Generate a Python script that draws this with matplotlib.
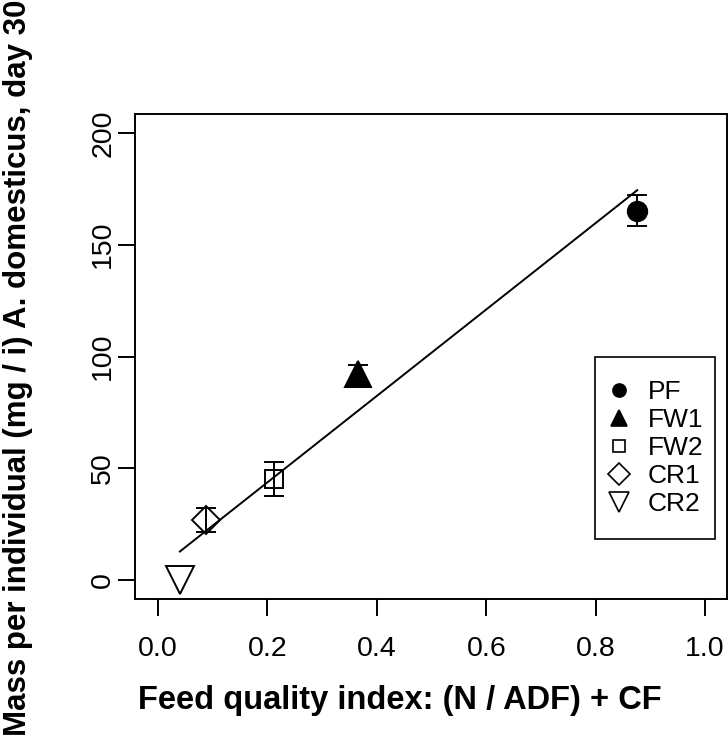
import matplotlib.pyplot as plt
from matplotlib.lines import Line2D
from matplotlib.patches import Rectangle

# DATA
groups = ['PF', 'FW1', 'FW2', 'CR1', 'CR2']
quality_index = [0.876, 0.366, 0.212, 0.087, 0.040]
mass_mean = [165.2, 92.0, 45.3, 26.8, 0.0]
mass_err = [7.0, 4.0, 7.6, 5.5, 0.0]
fit_slope = 193.4
fit_intercept = 5.0

x_ticks = [0.0, 0.2, 0.4, 0.6, 0.8, 1.0]
y_ticks = [0, 50, 100, 150, 200]

# marker style per group
markers = ['o', '^', 's', 'D', 'v']
filled = [True, True, False, False, False]
plot_sizes = [14, 19, 13, 14.5, 19.5]
legend_sizes = [9.4, 12, 8.6, 11, 14]

plt.rcParams['font.family'] = ['Liberation Sans', 'DejaVu Sans']

fig = plt.figure(figsize=(7.28, 7.42), dpi=100)
ax = fig.add_axes([135 / 728, 1 - 599 / 742, 592 / 728, 485 / 742])

# regression line across the data range
x0, x1 = min(quality_index), max(quality_index)
ax.plot([x0, x1], [fit_intercept + fit_slope * x0, fit_intercept + fit_slope * x1],
        color='black', lw=1.4, zorder=2)

for i, g in enumerate(groups):
    if mass_err[i] > 0:
        ax.errorbar(quality_index[i], mass_mean[i], yerr=mass_err[i], fmt='none',
                    ecolor='black', elinewidth=1.4, capsize=7, capthick=1.4, zorder=4)
    ax.plot(quality_index[i], mass_mean[i], marker=markers[i], ms=plot_sizes[i],
            mfc='black' if filled[i] else 'none', mec='black', mew=1.4, ls='none', zorder=3)

ax.set_xlim(-0.042, 1.04)
ax.set_ylim(-8.5, 208.5)
ax.set_xticks(x_ticks)
ax.set_xticklabels([f'{v:.1f}' for v in x_ticks])
ax.set_yticks(y_ticks)
ax.set_yticklabels([str(v) for v in y_ticks])

for s in ax.spines.values():
    s.set_linewidth(1.4)
ax.tick_params(axis='both', length=12, width=1.4, labelsize=20.5, colors='black')
ax.tick_params(axis='x', pad=15)
ax.tick_params(axis='y', pad=1.5, labelrotation=90)
for lab in ax.get_yticklabels():
    lab.set_va('center')

ax.set_xlabel('Feed quality index: (N / ADF) + CF', fontsize=23.5,
              fontweight='bold', va='center')
ax.set_ylabel('Mass per individual (mg / i) A. domesticus, day 30', fontsize=22.5,
              fontweight='bold', va='center')
ax.xaxis.set_label_coords((400 - 135) / 592, (599 - 700) / 485)
ax.yaxis.set_label_coords((18 - 135) / 592, (599 - 368) / 485)

# legend: square box drawn separately, entries centred inside it
bx0, bx1 = (595 - 135) / 592, (715 - 135) / 592
by0, by1 = (599 - 539) / 485, (599 - 357) / 485
ax.add_patch(Rectangle((bx0, by0), bx1 - bx0, by1 - by0, transform=ax.transAxes,
                       fill=True, facecolor='white', edgecolor='black', lw=1.2, zorder=5))
handles = [Line2D([], [], marker=markers[i], ms=legend_sizes[i], ls='none',
                  mfc='black' if filled[i] else 'none', mec='black', mew=1.2)
           for i in range(len(groups))]
leg = ax.legend(handles, groups, loc='center',
                bbox_to_anchor=((bx0 + bx1) / 2, (by0 + by1) / 2),
                fontsize=19, frameon=False, handlelength=0.9, handletextpad=0.65,
                labelspacing=0.15, borderpad=0, borderaxespad=0)
leg.set_zorder(6)

fig.savefig('out.png', dpi=100)
